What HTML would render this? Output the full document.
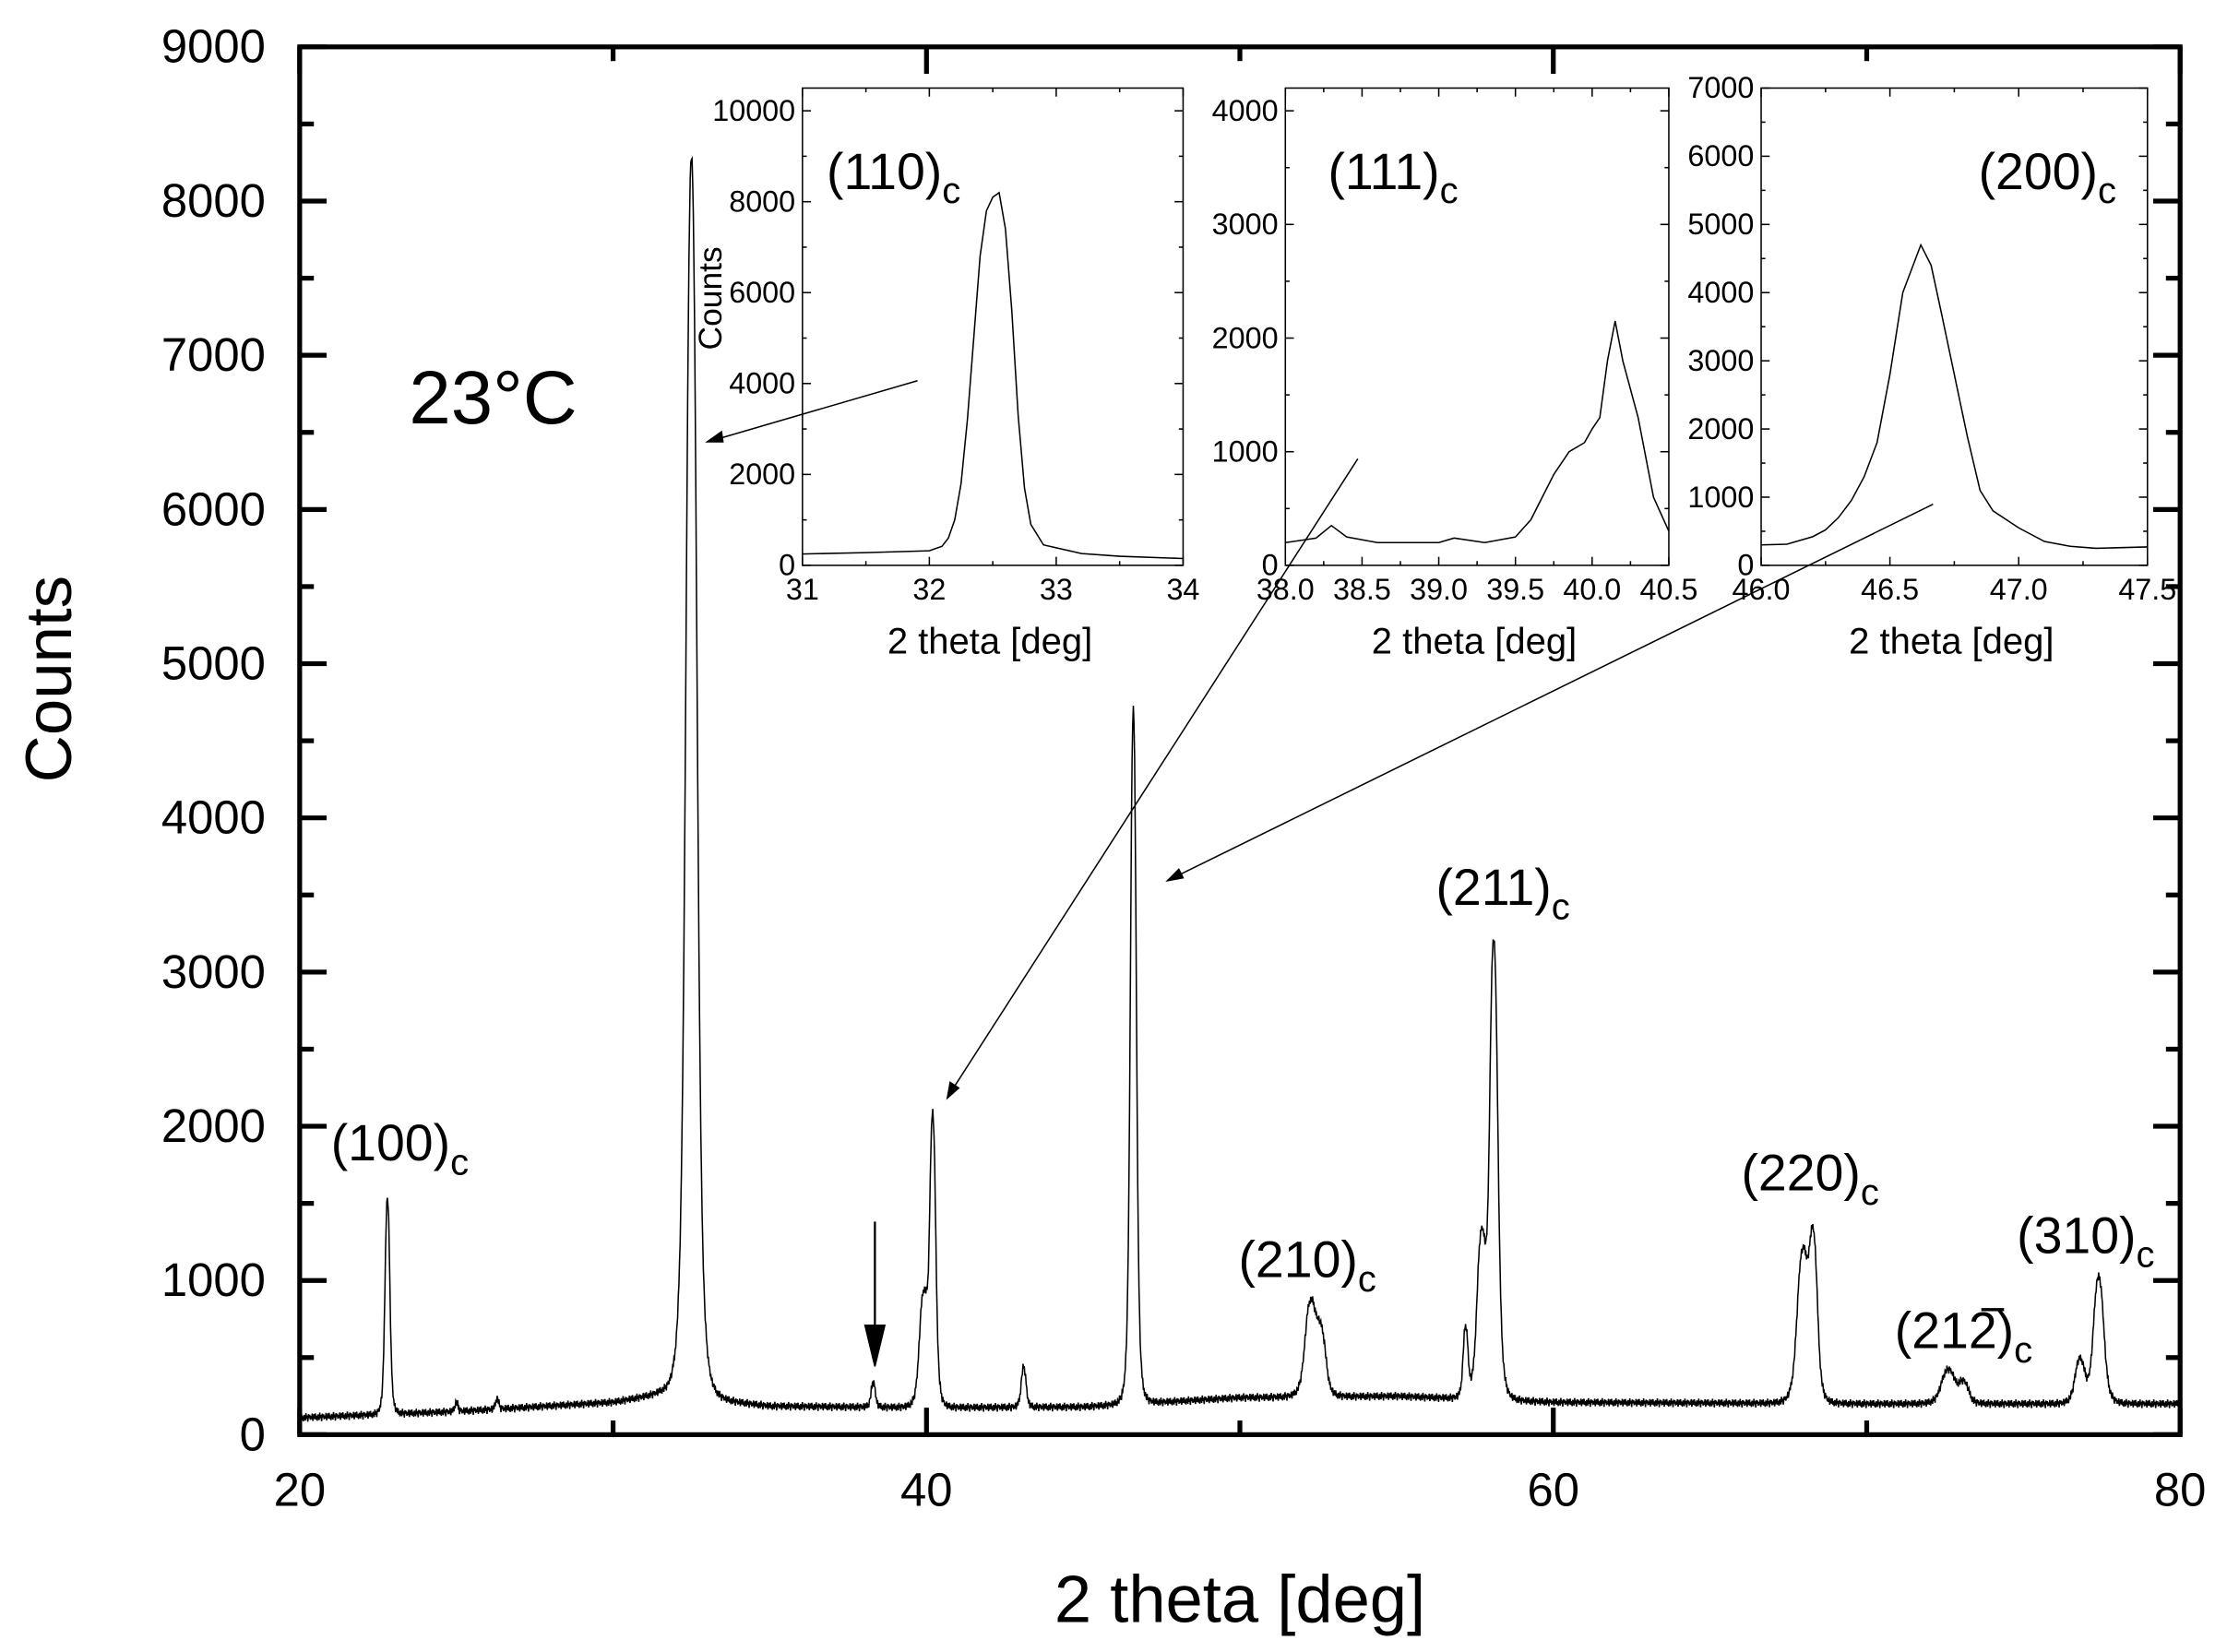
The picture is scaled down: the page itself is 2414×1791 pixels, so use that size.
<!DOCTYPE html>
<html><head><meta charset="utf-8"><style>
html,body{margin:0;padding:0;background:#fff;}
svg{display:block;font-family:"Liberation Sans",Arial,sans-serif;}
</style></head><body>
<svg id="chart" width="2414" height="1791" viewBox="0 0 1568 1163" preserveAspectRatio="none" xmlns="http://www.w3.org/2000/svg">
<rect width="1568" height="1163" fill="#fff"/>
<g id="main"></g>
<text x="288" y="298" font-size="53">23°C</text>
<text x="873" y="1142" font-size="47" text-anchor="middle">2 theta [deg]</text>
<text transform="translate(50,478) rotate(-90)" font-size="46" text-anchor="middle">Counts</text>
<g font-size="36">
<text x="233" y="817">(100)<tspan font-size="26" dy="10">c</tspan></text>
<text x="1011" y="637">(211)<tspan font-size="26" dy="10">c</tspan></text>
<text x="872" y="899">(210)<tspan font-size="26" dy="10">c</tspan></text>
<text x="1226" y="838">(220)<tspan font-size="26" dy="10">c</tspan></text>
<text x="1334" y="949">(212)<tspan font-size="26" dy="10">c</tspan></text>
<line x1="1395" y1="922" x2="1411" y2="922" stroke="#000" stroke-width="2.2"/>
<text x="1420" y="882">(310)<tspan font-size="26" dy="10">c</tspan></text>
</g>
<g id="insets"></g>
<g id="arrows" stroke="#000" stroke-width="1" fill="#000">
<line x1="646" y1="268" x2="502" y2="310"/>
<polygon points="498,311 508,304 509,311" />
<line x1="956" y1="323" x2="670" y2="768"/>
<polygon points="667,773 669,762 675,766"/>
<line x1="1361" y1="355" x2="826" y2="618"/>
<polygon points="822,620 830,612 833,618"/>
<line x1="616" y1="860" x2="616" y2="935" stroke-width="1.5"/>
<polygon points="609,933 623,933 616,962"/>
</g>
</svg>
<script>
// main pattern data: peaks (center deg, height counts, HWHM deg)
const peakCenters = [22.8, 25.0, 26.3, 32.5, 38.3, 39.9, 40.2, 43.1, 46.6, 52.25, 52.6, 57.2, 57.7, 58.1, 67.95, 68.3, 72.6, 73.1, 76.8, 77.4];
const peakHeights = [1400, 60, 70, 8050, 160, 700, 1850, 260, 4500, 600, 380, 450, 1000, 2950, 950, 1000, 220, 130, 280, 820];
const peakWidths = [0.09, 0.06, 0.06, 0.2, 0.08, 0.15, 0.11, 0.09, 0.11, 0.2, 0.17, 0.09, 0.16, 0.15, 0.2, 0.15, 0.25, 0.18, 0.18, 0.19];
const baseX = [20, 25, 30, 31.5, 35, 40, 45, 50, 55, 60, 70, 80];
const baseY = [110, 150, 210, 260, 185, 175, 180, 240, 250, 210, 200, 200];
const jitter = [0, 25, -15, 30, -20, 10, -30, 20, 5, -25, 35, -10, 15, -35, 25, -5, 20, -20, 10, -15, 30, -30];
const mainXTicks = [20, 40, 60, 80];
const mainYTicks = [0, 1000, 2000, 3000, 4000, 5000, 6000, 7000, 8000, 9000];

// insets
const in1X = [31, 31.5, 32, 32.1, 32.15, 32.2, 32.25, 32.3, 32.35, 32.4, 32.45, 32.5, 32.55, 32.6, 32.65, 32.7, 32.75, 32.8, 32.9, 33.2, 33.5, 34];
const in1Y = [250, 280, 320, 420, 600, 1000, 1800, 3200, 5000, 6800, 7800, 8100, 8200, 7400, 5600, 3300, 1700, 900, 450, 260, 200, 150];
const in2X = [38.0, 38.2, 38.3, 38.4, 38.6, 39.0, 39.1, 39.3, 39.5, 39.6, 39.75, 39.85, 39.95, 40.0, 40.05, 40.1, 40.15, 40.2, 40.3, 40.4, 40.5];
const in2Y = [200, 240, 350, 250, 200, 200, 240, 200, 250, 400, 800, 1000, 1080, 1200, 1300, 1800, 2150, 1800, 1300, 600, 300];
const in3X = [46.0, 46.1, 46.2, 46.25, 46.3, 46.35, 46.4, 46.45, 46.5, 46.55, 46.6, 46.62, 46.66, 46.7, 46.75, 46.8, 46.85, 46.9, 47.0, 47.1, 47.2, 47.3, 47.4, 47.5];
const in3Y = [300, 310, 420, 520, 700, 950, 1300, 1800, 2800, 4000, 4500, 4700, 4400, 3700, 2800, 1900, 1100, 800, 550, 350, 280, 250, 260, 270];

const NS = "http://www.w3.org/2000/svg";
function mk(tag, attrs, parent){const e=document.createElementNS(NS,tag);for(const k in attrs)e.setAttribute(k,attrs[k]);parent.appendChild(e);return e;}

const M = {x0:211, x1:1535, y0:1010, y1:33, xmin:20, xmax:80, ymin:0, ymax:9000};
const mx = v => M.x0 + (v-M.xmin)/(M.xmax-M.xmin)*(M.x1-M.x0);
const my = v => M.y0 - (v-M.ymin)/(M.ymax-M.ymin)*(M.y0-M.y1);
const g = document.getElementById('main');

function baseline(x){for(let i=0;i<baseX.length-1;i++){if(x<=baseX[i+1]){const t=(x-baseX[i])/(baseX[i+1]-baseX[i]);return baseY[i]+t*(baseY[i+1]-baseY[i]);}}return baseY[baseY.length-1];}
let d='';let k=0;
for(let x=20;x<=80.0001;x+=0.02){
  let y=baseline(x)+jitter[k%jitter.length]*0.8;k++;
  for(let i=0;i<peakCenters.length;i++){const u=(x-peakCenters[i])/peakWidths[i];y+=peakHeights[i]/(1+u*u*u*u*0.5+u*u*0.5);}
  d+=(d?'L':'M')+mx(x).toFixed(2)+','+my(y).toFixed(2);
}
const mainLine = mk('path',{d:d,fill:'none',stroke:'#000','stroke-width':1},g);



const frame = mk('rect',{x:M.x0,y:M.y1,width:M.x1-M.x0,height:M.y0-M.y1,fill:'none',stroke:'#000','stroke-width':3.4},g);


for(let v=20;v<=80;v+=10){
  const major = v%20===0; const L = major?19:10;
  mk('line',{x1:mx(v),x2:mx(v),y1:M.y0,y2:M.y0-L,stroke:'#000','stroke-width':3.4},g);
  mk('line',{x1:mx(v),x2:mx(v),y1:M.y1,y2:M.y1+L,stroke:'#000','stroke-width':3.4},g);
}
for(let v=0;v<=9000;v+=500){
  const major = v%1000===0; const L = major?19:10;
  mk('line',{x1:M.x0,x2:M.x0+L,y1:my(v),y2:my(v),stroke:'#000','stroke-width':3.4},g);
  mk('line',{x1:M.x1,x2:M.x1-L,y1:my(v),y2:my(v),stroke:'#000','stroke-width':3.4},g);
}
mainXTicks.forEach(v=>{
  const t=mk('text',{x:mx(v),y:1060,'font-size':33,'text-anchor':'middle'},g);t.textContent=v;
  
  
});
mainYTicks.forEach(v=>{
  const t=mk('text',{x:187,y:my(v)+11,'font-size':33,'text-anchor':'end'},g);t.textContent=v;
  
  
});

const gi=document.getElementById('insets');
function inset(name,box,xr,yr,xMaj,xMin,yMaj,yMin,xs,ys,xfmt,label,labelX,showYTitle){
  const G=mk('g',{},gi);
  
  
  const ix=v=>box.x0+(v-xr[0])/(xr[1]-xr[0])*(box.x1-box.x0);
  const iy=v=>box.y0-(v-yr[0])/(yr[1]-yr[0])*(box.y0-box.y1);
  mk('rect',{x:box.x0,y:box.y1,width:box.x1-box.x0,height:box.y0-box.y1,fill:'#fff',stroke:'#000','stroke-width':1},G);
  for(let v=xr[0];v<=xr[1]+1e-6;v+=xMin){
    const maj=Math.abs(Math.round(v/xMaj)*xMaj-v)<1e-6;const L=maj?6:3;
    mk('line',{x1:ix(v),x2:ix(v),y1:box.y0,y2:box.y0-L,stroke:'#000'},G);
    mk('line',{x1:ix(v),x2:ix(v),y1:box.y1,y2:box.y1+L,stroke:'#000'},G);
    if(maj){const t=mk('text',{x:ix(v),y:box.y0+24,'font-size':21,'text-anchor':'middle'},G);t.textContent=v.toFixed(xfmt);}
  }
  for(let v=yr[0];v<=yr[1]+1e-6;v+=yMin){
    const maj=v%yMaj===0;const L=maj?6:3;
    mk('line',{x1:box.x0,x2:box.x0+L,y1:iy(v),y2:iy(v),stroke:'#000'},G);
    mk('line',{x1:box.x1,x2:box.x1-L,y1:iy(v),y2:iy(v),stroke:'#000'},G);
    if(maj){const t=mk('text',{x:box.x0-5,y:iy(v)+7,'font-size':21,'text-anchor':'end'},G);t.textContent=v;}
  }
  let p='';xs.forEach((x,i)=>{p+=(i?'L':'M')+ix(x).toFixed(2)+','+iy(ys[i]).toFixed(2);});
  const ln=mk('path',{d:p,fill:'none',stroke:'#000','stroke-width':1},G);
  
  
  const xt=mk('text',{x:(box.x0+box.x1)/2-2,y:460,'font-size':26,'text-anchor':'middle'},G);xt.textContent='2 theta [deg]';
  
  
  const lb=mk('text',{x:labelX,y:133,'font-size':36},G);lb.textContent=label;
  const sub=mk('tspan',{'font-size':26,dy:10},lb);sub.textContent='c';
  
  
  if(showYTitle){
    const yt=mk('text',{transform:'translate(508,210) rotate(-90)','font-size':23,'text-anchor':'middle'},G);yt.textContent='Counts';
    
    
  }
}
inset('inset-110',{x0:565,x1:833,y0:398,y1:62},[31,34],[0,10500],1,0.5,2000,1000,in1X,in1Y,0,'(110)',582,true);
inset('inset-111',{x0:905,x1:1175,y0:398,y1:62},[38,40.5],[0,4200],0.5,0.25,1000,500,in2X,in2Y,1,'(111)',935,false);
inset('inset-200',{x0:1240,x1:1512,y0:398,y1:62},[46,47.5],[0,7000],0.5,0.25,1000,500,in3X,in3Y,1,'(200)',1393,false);
document.getElementById('chart').appendChild(document.getElementById('arrows'));
</script>
</body></html>
